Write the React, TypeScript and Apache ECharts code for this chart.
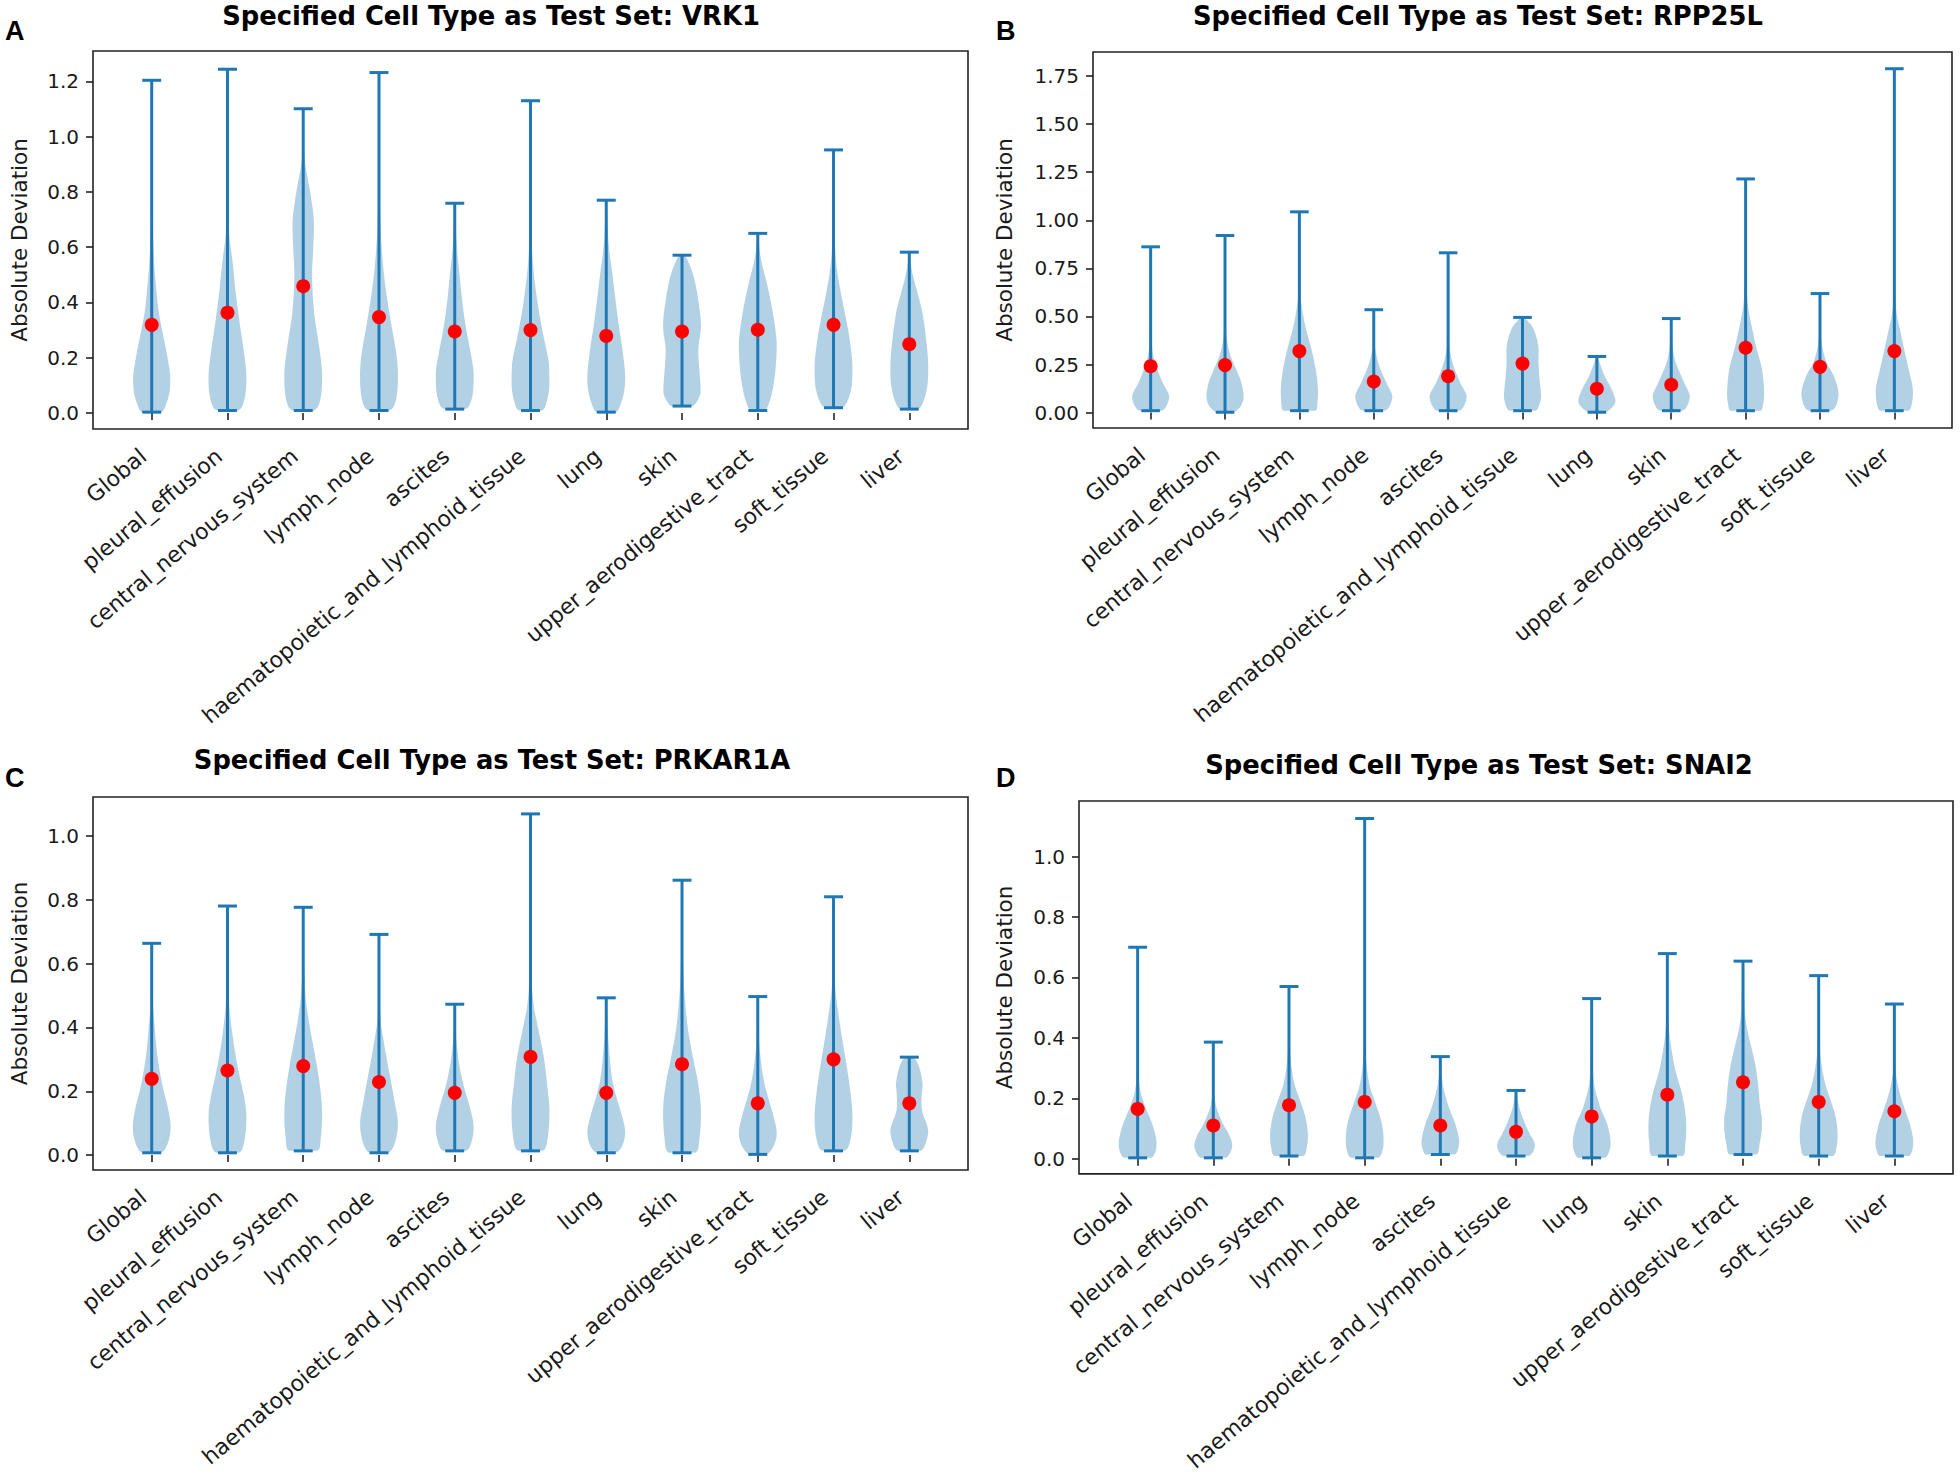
import React, { useEffect, useRef } from "react";
import * as echarts from "echarts";

const categories = [
  "Global",
  "pleural_effusion",
  "central_nervous_system",
  "lymph_node",
  "ascites",
  "haematopoietic_and_lymphoid_tissue",
  "lung",
  "skin",
  "upper_aerodigestive_tract",
  "soft_tissue",
  "liver",
];

const titles = [
  "Specified Cell Type as Test Set: VRK1",
  "Specified Cell Type as Test Set: RPP25L",
  "Specified Cell Type as Test Set: PRKAR1A",
  "Specified Cell Type as Test Set: SNAI2",
];
const panelLetters = ["A", "B", "C", "D"];
const yAxisName = "Absolute Deviation";

// ---------- Panel A: VRK1 ----------
const vrk1Mins = [0.003, 0.009, 0.009, 0.009, 0.014, 0.009, 0.003, 0.025, 0.009, 0.019, 0.014];
const vrk1Maxs = [1.204, 1.244, 1.101, 1.232, 0.759, 1.13, 0.77, 0.571, 0.65, 0.952, 0.582];
const vrk1Means = [0.319, 0.363, 0.459, 0.347, 0.295, 0.3, 0.279, 0.295, 0.301, 0.319, 0.249];
const vrk1Ticks = [0, 0.2, 0.4, 0.6, 0.8, 1.0, 1.2];
// density profiles: [value, relative half-width]
const vrk1Shapes = [
  [[0.003, 0.5], [0.037, 0.79], [0.085, 0.96], [0.133, 0.98], [0.217, 0.79], [0.289, 0.58], [0.361, 0.38], [0.433, 0.26], [0.577, 0.1], [0.75, 0.04], [1.204, 0.01]],
  [[0.009, 0.55], [0.025, 0.79], [0.073, 0.96], [0.133, 1], [0.217, 0.88], [0.313, 0.67], [0.433, 0.44], [0.529, 0.3], [0.601, 0.17], [0.649, 0.09], [0.85, 0.03], [1.244, 0.01]],
  [[0.009, 0.55], [0.025, 0.8], [0.073, 0.96], [0.145, 1], [0.241, 0.84], [0.361, 0.58], [0.493, 0.47], [0.601, 0.53], [0.697, 0.56], [0.793, 0.38], [0.913, 0.08], [1.0, 0.03], [1.101, 0.01]],
  [[0.009, 0.55], [0.025, 0.79], [0.073, 0.96], [0.145, 1], [0.217, 0.91], [0.313, 0.67], [0.409, 0.44], [0.505, 0.26], [0.601, 0.14], [0.697, 0.07], [0.9, 0.02], [1.232, 0.01]],
  [[0.014, 0.55], [0.03, 0.79], [0.073, 0.96], [0.145, 1], [0.217, 0.84], [0.313, 0.58], [0.409, 0.39], [0.505, 0.25], [0.601, 0.11], [0.759, 0.01]],
  [[0.009, 0.6], [0.04, 0.85], [0.1, 1], [0.18, 0.97], [0.29, 0.65], [0.41, 0.35], [0.55, 0.12], [0.7, 0.04], [1.13, 0.01]],
  [[0.003, 0.5], [0.037, 0.79], [0.085, 0.96], [0.133, 1], [0.217, 0.88], [0.313, 0.67], [0.409, 0.49], [0.505, 0.32], [0.577, 0.18], [0.649, 0.09], [0.77, 0.01]],
  [[0.025, 0.55], [0.037, 0.75], [0.073, 0.98], [0.145, 0.93], [0.229, 0.86], [0.313, 1], [0.409, 0.86], [0.493, 0.62], [0.545, 0.35], [0.571, 0.12]],
  [[0.009, 0.35], [0.037, 0.6], [0.097, 0.82], [0.169, 0.95], [0.253, 1], [0.361, 0.8], [0.457, 0.52], [0.553, 0.18], [0.6, 0.08], [0.65, 0.01]],
  [[0.019, 0.45], [0.037, 0.7], [0.097, 0.96], [0.169, 1], [0.253, 0.88], [0.337, 0.67], [0.433, 0.39], [0.505, 0.21], [0.577, 0.1], [0.7, 0.04], [0.952, 0.01]],
  [[0.014, 0.45], [0.037, 0.72], [0.097, 0.95], [0.169, 1], [0.253, 0.91], [0.361, 0.7], [0.433, 0.44], [0.493, 0.21], [0.54, 0.08], [0.582, 0.01]],
];

// ---------- Panel B: RPP25L ----------
const rpp25lMins = [0.01, 0.002, 0.01, 0.01, 0.01, 0.01, 0.002, 0.01, 0.01, 0.01, 0.01];
const rpp25lMaxs = [0.862, 0.921, 1.044, 0.535, 0.831, 0.495, 0.292, 0.489, 1.215, 0.619, 1.788];
const rpp25lMeans = [0.241, 0.247, 0.32, 0.162, 0.189, 0.255, 0.124, 0.145, 0.337, 0.238, 0.32];
const rpp25lTicks = [0, 0.25, 0.5, 0.75, 1.0, 1.25, 1.5, 1.75];
const rpp25lShapes = [
  [[0.01, 0.6], [0.034, 0.85], [0.085, 1], [0.155, 0.65], [0.225, 0.36], [0.294, 0.15], [0.363, 0.06], [0.5, 0.02], [0.862, 0.01]],
  [[0.002, 0.45], [0.034, 0.85], [0.085, 1], [0.155, 0.88], [0.225, 0.6], [0.294, 0.3], [0.363, 0.13], [0.45, 0.04], [0.921, 0.01]],
  [[0.01, 0.85], [0.05, 0.97], [0.12, 1], [0.225, 0.88], [0.329, 0.65], [0.433, 0.36], [0.52, 0.18], [0.607, 0.06], [0.75, 0.02], [1.044, 0.01]],
  [[0.01, 0.6], [0.034, 0.85], [0.085, 1], [0.155, 0.68], [0.225, 0.36], [0.294, 0.15], [0.36, 0.05], [0.535, 0.01]],
  [[0.01, 0.6], [0.034, 0.85], [0.085, 1], [0.155, 0.65], [0.225, 0.35], [0.294, 0.15], [0.363, 0.06], [0.5, 0.02], [0.831, 0.01]],
  [[0.01, 0.7], [0.034, 0.88], [0.085, 1], [0.172, 0.92], [0.259, 0.86], [0.345, 0.85], [0.433, 0.6], [0.48, 0.25], [0.495, 0.05]],
  [[0.002, 0.45], [0.03, 0.85], [0.06, 1], [0.12, 0.8], [0.19, 0.42], [0.259, 0.15], [0.292, 0.02]],
  [[0.01, 0.6], [0.034, 0.85], [0.085, 1], [0.155, 0.7], [0.259, 0.25], [0.345, 0.08], [0.489, 0.01]],
  [[0.01, 0.8], [0.05, 0.95], [0.1, 1], [0.225, 0.88], [0.329, 0.6], [0.433, 0.36], [0.52, 0.18], [0.607, 0.08], [0.8, 0.02], [1.215, 0.01]],
  [[0.01, 0.6], [0.034, 0.85], [0.1, 1], [0.19, 0.74], [0.259, 0.36], [0.329, 0.15], [0.4, 0.05], [0.619, 0.01]],
  [[0.01, 0.75], [0.05, 0.95], [0.12, 1], [0.225, 0.77], [0.329, 0.53], [0.433, 0.3], [0.5, 0.15], [0.6, 0.05], [0.9, 0.02], [1.788, 0.01]],
];

// ---------- Panel C: PRKAR1A ----------
const prkar1aMins = [0.007, 0.007, 0.013, 0.007, 0.013, 0.013, 0.007, 0.007, 0.002, 0.013, 0.013];
const prkar1aMaxs = [0.664, 0.781, 0.777, 0.692, 0.473, 1.07, 0.493, 0.862, 0.497, 0.81, 0.307];
const prkar1aMeans = [0.239, 0.265, 0.279, 0.229, 0.195, 0.308, 0.195, 0.285, 0.162, 0.3, 0.162];
const prkar1aTicks = [0, 0.2, 0.4, 0.6, 0.8, 1.0];
const prkar1aShapes = [
  [[0.007, 0.5], [0.037, 0.85], [0.089, 1], [0.152, 0.84], [0.204, 0.62], [0.257, 0.44], [0.331, 0.26], [0.413, 0.14], [0.466, 0.07], [0.6, 0.02], [0.664, 0.01]],
  [[0.007, 0.6], [0.04, 0.88], [0.12, 1], [0.182, 0.88], [0.245, 0.65], [0.308, 0.44], [0.392, 0.23], [0.466, 0.1], [0.55, 0.04], [0.781, 0.01]],
  [[0.013, 0.75], [0.05, 0.92], [0.131, 1], [0.204, 0.91], [0.287, 0.7], [0.371, 0.44], [0.434, 0.26], [0.497, 0.12], [0.6, 0.04], [0.777, 0.01]],
  [[0.007, 0.5], [0.04, 0.85], [0.099, 1], [0.162, 0.84], [0.225, 0.65], [0.308, 0.39], [0.371, 0.21], [0.413, 0.1], [0.5, 0.03], [0.692, 0.01]],
  [[0.013, 0.6], [0.04, 0.88], [0.089, 1], [0.152, 0.79], [0.204, 0.53], [0.257, 0.32], [0.308, 0.18], [0.38, 0.06], [0.473, 0.01]],
  [[0.013, 0.65], [0.05, 0.9], [0.141, 1], [0.22, 0.88], [0.308, 0.7], [0.413, 0.35], [0.466, 0.18], [0.55, 0.06], [0.7, 0.02], [1.07, 0.01]],
  [[0.007, 0.5], [0.03, 0.85], [0.073, 1], [0.131, 0.79], [0.183, 0.53], [0.235, 0.32], [0.308, 0.18], [0.392, 0.08], [0.493, 0.01]],
  [[0.007, 0.7], [0.05, 0.92], [0.141, 1], [0.225, 0.85], [0.308, 0.57], [0.392, 0.32], [0.476, 0.17], [0.56, 0.08], [0.7, 0.02], [0.862, 0.01]],
  [[0.002, 0.45], [0.03, 0.85], [0.068, 1], [0.12, 0.84], [0.173, 0.58], [0.225, 0.35], [0.288, 0.18], [0.351, 0.08], [0.497, 0.01]],
  [[0.013, 0.6], [0.05, 0.9], [0.12, 1], [0.204, 0.88], [0.288, 0.67], [0.371, 0.44], [0.455, 0.23], [0.518, 0.1], [0.6, 0.04], [0.81, 0.01]],
  [[0.013, 0.6], [0.04, 0.88], [0.078, 1], [0.141, 0.67], [0.19, 0.66], [0.225, 0.7], [0.27, 0.55], [0.298, 0.35], [0.307, 0.15]],
];

// ---------- Panel D: SNAI2 ----------
const snai2Mins = [0.003, 0.003, 0.009, 0.003, 0.014, 0.009, 0.003, 0.009, 0.014, 0.009, 0.009];
const snai2Maxs = [0.7, 0.386, 0.57, 1.126, 0.338, 0.226, 0.53, 0.679, 0.654, 0.606, 0.512];
const snai2Means = [0.165, 0.11, 0.177, 0.188, 0.11, 0.089, 0.14, 0.212, 0.253, 0.188, 0.157];
const snai2Ticks = [0, 0.2, 0.4, 0.6, 0.8, 1.0];
const snai2Shapes = [
  [[0.003, 0.7], [0.025, 0.95], [0.053, 1], [0.091, 0.89], [0.135, 0.65], [0.179, 0.36], [0.223, 0.15], [0.28, 0.05], [0.4, 0.02], [0.7, 0.01]],
  [[0.003, 0.65], [0.025, 0.93], [0.047, 1], [0.08, 0.83], [0.113, 0.53], [0.146, 0.3], [0.179, 0.13], [0.23, 0.04], [0.386, 0.01]],
  [[0.009, 0.75], [0.04, 0.95], [0.08, 1], [0.135, 0.88], [0.19, 0.6], [0.245, 0.3], [0.3, 0.14], [0.37, 0.05], [0.57, 0.01]],
  [[0.003, 0.7], [0.03, 0.95], [0.069, 1], [0.124, 0.88], [0.179, 0.6], [0.234, 0.3], [0.289, 0.14], [0.36, 0.05], [0.5, 0.02], [1.126, 0.01]],
  [[0.014, 0.75], [0.035, 0.95], [0.058, 1], [0.113, 0.8], [0.157, 0.53], [0.201, 0.3], [0.245, 0.14], [0.29, 0.05], [0.338, 0.01]],
  [[0.009, 0.65], [0.025, 0.92], [0.047, 1], [0.091, 0.66], [0.135, 0.36], [0.179, 0.14], [0.226, 0.01]],
  [[0.003, 0.7], [0.03, 0.95], [0.058, 1], [0.113, 0.83], [0.157, 0.53], [0.201, 0.3], [0.245, 0.14], [0.31, 0.05], [0.53, 0.01]],
  [[0.009, 0.8], [0.05, 0.95], [0.102, 1], [0.157, 0.94], [0.223, 0.74], [0.289, 0.44], [0.355, 0.24], [0.42, 0.1], [0.5, 0.04], [0.679, 0.01]],
  [[0.014, 0.7], [0.05, 0.88], [0.1, 1], [0.135, 1], [0.179, 0.89], [0.245, 0.8], [0.311, 0.65], [0.377, 0.41], [0.442, 0.18], [0.497, 0.09], [0.654, 0.01]],
  [[0.009, 0.75], [0.04, 0.95], [0.08, 1], [0.135, 0.91], [0.19, 0.65], [0.245, 0.36], [0.3, 0.18], [0.37, 0.06], [0.606, 0.01]],
  [[0.009, 0.75], [0.03, 0.95], [0.058, 1], [0.113, 0.83], [0.157, 0.59], [0.201, 0.36], [0.245, 0.18], [0.3, 0.06], [0.512, 0.01]],
];

// ---------- layout / style (not data) ----------
const panels = [
  { mins: vrk1Mins, maxs: vrk1Maxs, means: vrk1Means, shapes: vrk1Shapes, ticks: vrk1Ticks, dec: 1,
    grid: { left: 93, top: 51, width: 875, height: 378 }, yMin: -0.058, yMax: 1.31, nameGap: 63,
    title: [491, 16], letter: [5, 31] },
  { mins: rpp25lMins, maxs: rpp25lMaxs, means: rpp25lMeans, shapes: rpp25lShapes, ticks: rpp25lTicks, dec: 2,
    grid: { left: 1093, top: 52, width: 859, height: 376 }, yMin: -0.08, yMax: 1.875, nameGap: 78,
    title: [1478, 16], letter: [996, 31] },
  { mins: prkar1aMins, maxs: prkar1aMaxs, means: prkar1aMeans, shapes: prkar1aShapes, ticks: prkar1aTicks, dec: 1,
    grid: { left: 93, top: 797, width: 875, height: 373 }, yMin: -0.047, yMax: 1.123, nameGap: 63,
    title: [492, 760], letter: [5, 778] },
  { mins: snai2Mins, maxs: snai2Maxs, means: snai2Means, shapes: snai2Shapes, ticks: snai2Ticks, dec: 1,
    grid: { left: 1079, top: 801, width: 874, height: 375 }, yMin: -0.05, yMax: 1.184, nameGap: 64,
    title: [1479, 765], letter: [996, 778] },
];

const LINE = "#1f77b4";
const FILL = "rgba(31,119,180,0.34)";
const AX = "#222";
const TXT = "#1a1a1a";
const FONT = "DejaVu Sans";
const HALF = 0.25;
const CAP = 0.125;
const positions = categories.map((_, i) => i + 1);

function makeRenderItem(shapes: number[][][]) {
  return (params: any, api: any) => {
    const i = params.dataIndex;
    const pos = api.value(0);
    const lo = api.value(1);
    const hi = api.value(2);
    const prof = shapes[i];
    const right = prof.map(([v, w]) => api.coord([pos + HALF * w, v]));
    const left = prof
      .slice()
      .reverse()
      .map(([v, w]) => api.coord([pos - HALF * w, v]));
    const pts = right.concat(left);
    let x0 = Infinity, y0 = Infinity, x1 = -Infinity, y1 = -Infinity;
    pts.forEach((p: number[]) => {
      x0 = Math.min(x0, p[0]); y0 = Math.min(y0, p[1]);
      x1 = Math.max(x1, p[0]); y1 = Math.max(y1, p[1]);
    });
    const b0 = api.coord([pos, lo]);
    const b1 = api.coord([pos, hi]);
    const cl0 = api.coord([pos - CAP, lo]);
    const cr0 = api.coord([pos + CAP, lo]);
    const cl1 = api.coord([pos - CAP, hi]);
    const cr1 = api.coord([pos + CAP, hi]);
    const ls = { stroke: LINE, lineWidth: 3 };
    return {
      type: "group",
      children: [
        { type: "polygon", shape: { points: pts, smooth: 0.35, smoothConstraint: [[x0, y0], [x1, y1]] }, style: { fill: FILL } },
        { type: "line", shape: { x1: b0[0], y1: b0[1], x2: b1[0], y2: b1[1] }, style: ls },
        { type: "line", shape: { x1: cl0[0], y1: cl0[1], x2: cr0[0], y2: cr0[1] }, style: ls },
        { type: "line", shape: { x1: cl1[0], y1: cl1[1], x2: cr1[0], y2: cr1[1] }, style: ls },
      ],
    };
  };
}

export default function App() {
  const ref = useRef<HTMLDivElement>(null);
  useEffect(() => {
    if (!ref.current) return;
    const chart = echarts.init(ref.current, null, { renderer: "svg" });
    const grids: any[] = [];
    const xAxes: any[] = [];
    const yAxes: any[] = [];
    const series: any[] = [];
    const graphics: any[] = [];
    panels.forEach((p, k) => {
      grids.push({ ...p.grid, show: true, borderColor: AX, borderWidth: 1.6, backgroundColor: "transparent", containLabel: false });
      xAxes.push({
        type: "value", gridIndex: k, min: 0.225, max: 11.775,
        splitLine: { show: false }, axisLine: { show: false },
        axisTick: { show: true, customValues: positions, length: 7, lineStyle: { color: AX, width: 1.6 } },
        axisLabel: {
          customValues: positions, rotate: 40, margin: 17, padding: [0, 11, 0, 0],
          formatter: (v: number) => categories[Math.round(v) - 1] || "",
          fontFamily: FONT, fontSize: 22, color: TXT,
        },
      });
      yAxes.push({
        type: "value", gridIndex: k, min: p.yMin, max: p.yMax,
        splitLine: { show: false }, axisLine: { show: false },
        axisTick: { show: true, customValues: p.ticks, length: 7, lineStyle: { color: AX, width: 1.6 } },
        axisLabel: {
          customValues: p.ticks, margin: 14,
          formatter: (v: number) => v.toFixed(p.dec),
          fontFamily: FONT, fontSize: 20, color: TXT,
        },
        name: yAxisName, nameLocation: "middle", nameRotate: 90, nameGap: p.nameGap,
        nameTextStyle: { fontFamily: FONT, fontSize: 21.5, color: TXT },
      });
      series.push({
        type: "custom", xAxisIndex: k, yAxisIndex: k, z: 2,
        renderItem: makeRenderItem(p.shapes),
        data: positions.map((x, i) => [x, p.mins[i], p.maxs[i]]),
        silent: true,
      });
      series.push({
        type: "scatter", xAxisIndex: k, yAxisIndex: k, z: 5,
        symbol: "circle", symbolSize: 14,
        itemStyle: { color: "#ff0000", opacity: 1 },
        data: positions.map((x, i) => [x, p.means[i]]),
        silent: true,
      });
      graphics.push({
        type: "text", x: p.title[0], y: p.title[1],
        style: {
          text: titles[k], fill: "#000", font: `bold 25.8px "${FONT}"`,
          textAlign: "center", textVerticalAlign: "middle", align: "center", verticalAlign: "middle",
        },
      });
      graphics.push({
        type: "text", x: p.letter[0], y: p.letter[1],
        style: {
          text: panelLetters[k], fill: "#000", font: `bold 27px "Liberation Sans"`,
          textAlign: "left", textVerticalAlign: "middle", align: "left", verticalAlign: "middle",
        },
      });
    });
    chart.setOption({
      animation: false,
      backgroundColor: "#ffffff",
      grid: grids,
      xAxis: xAxes,
      yAxis: yAxes,
      series,
      graphic: graphics,
    });
    return () => chart.dispose();
  }, []);
  return (
    <div
      ref={ref}
      style={{ position: "absolute", left: 0, top: 0, width: 1960, height: 1474, background: "#fff" }}
    />
  );
}
